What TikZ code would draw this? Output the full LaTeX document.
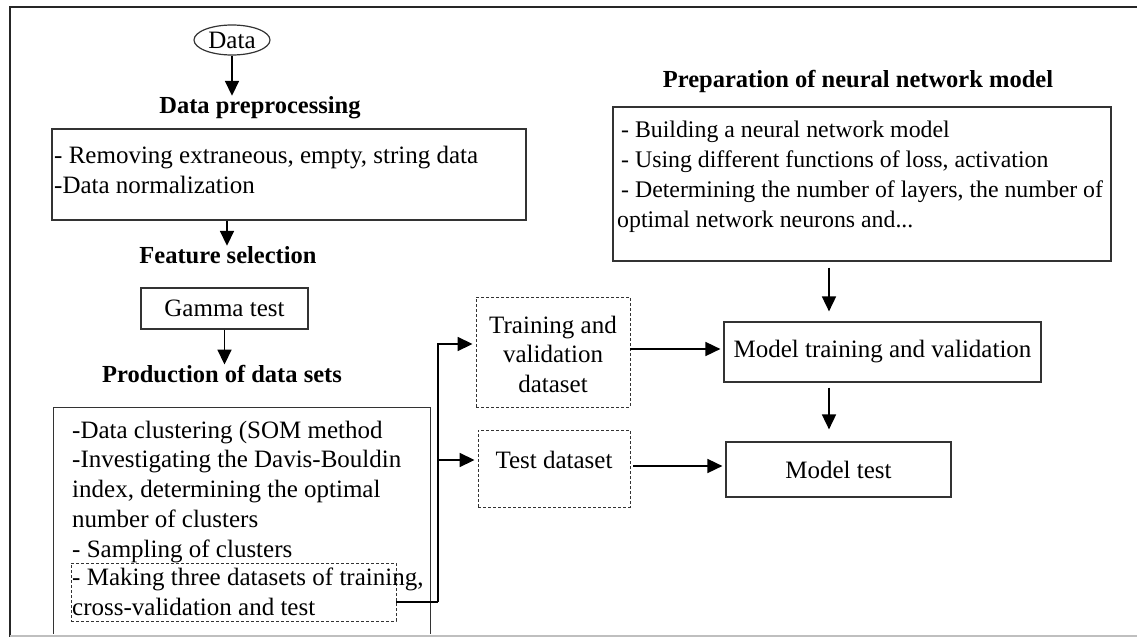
\documentclass[tikz,border=0pt]{standalone}
\usepackage{fontspec}
\setmainfont{Liberation Serif}
\usetikzlibrary{arrows.meta,calc,shapes.geometric}
\begin{document}
\begin{tikzpicture}[x=1pt,y=-1pt,
  every node/.style={font=\fontsize{25}{29.7}\selectfont},
  box/.style={draw=black!80,line width=1.2pt,inner sep=0pt},
  dbox/.style={draw=black!80,line width=0.9pt,dash pattern=on 3pt off 2pt,inner sep=0pt},
  head/.style={font=\fontsize{24.5}{29}\selectfont\bfseries,inner sep=0pt},
  txt/.style={inner sep=0pt,align=left},
  arr/.style={line width=1.7pt,-{Triangle[length=15pt,width=14pt]}},
  link/.style={line width=1.9pt}]
\useasboundingbox (0,0) rectangle (1137,637);

% page frame
\draw[line width=2.4pt,black!85] (1137,7) -- (10,7) -- (10,637);
\draw[line width=1.5pt,black!25] (10,636) -- (1137,636);

% left column (multi-line texts are placed by the baseline of their last line)
\node[box,ellipse,minimum width=76pt,minimum height=30pt] (data) at (232,40) {Data};
\node[head,anchor=base] (hpre) at (260,113) {Data preprocessing};
\node[box,minimum width=474pt,minimum height=91pt] (prep) at (289,174.5) {};
\node[txt,anchor=base west] (preptxt) at (54,193)
  {- Removing extraneous, empty, string data\\-Data normalization};
\node[head,anchor=base] (hfs) at (228,263) {Feature selection};
\node[box,minimum width=167pt,minimum height=41pt] (gamma) at (224.5,308.5) {Gamma test};
\node[head,anchor=base] (hds) at (222,382) {Production of data sets};
\begin{scope}
  \clip (0,0) rectangle (1137,633);
  \node[box,minimum width=377pt,minimum height=260pt,anchor=north west] (ds) at (53,407) {};
\end{scope}
\node[txt,anchor=base west] (dstxt) at (72,557)
  {-Data clustering (SOM method\\-Investigating the Davis-Bouldin\\index, determining the optimal\\number of clusters\\- Sampling of clusters};
\node[dbox,minimum width=325pt,minimum height=58pt] (mk) at (233.5,592) {};
\node[txt,anchor=base west] (mktxt) at (72,615.5)
  {- Making three datasets of training,\\cross-validation and test};

% middle column
\node[dbox,minimum width=154pt,minimum height=110pt] (trn) at (553,352) {};
\node[inner sep=0pt,align=center,anchor=base] (trntxt) at (553,392.5)
  {Training and\\validation\\dataset};
\node[dbox,minimum width=152pt,minimum height=77pt,text height=18pt,text depth=19pt,inner ysep=20pt] (tst) at (554,468.5)
  {Test dataset};

% right column
\node[head,anchor=base] (hnn) at (858,87) {Preparation of neural network model};
\node[box,minimum width=498pt,minimum height=154pt] (nn) at (862,184) {};
\node[txt,anchor=base west,font=\fontsize{23.8}{29.7}\selectfont] (nntxt) at (617,227)
  {\hspace*{4pt}- Building a neural network model\\
   \hspace*{4pt}- Using different functions of loss, activation\\
   \hspace*{4pt}- Determining the number of layers, the number of\\
   optimal network neurons and...};
\node[box,minimum width=317pt,minimum height=60pt] (mtrain) at (882.5,352) {Model training and validation};
\node[box,minimum width=225pt,minimum height=55pt] (mtest) at (838.5,469.5) {Model test};

% connectors
\coordinate (c1) at (227,0);
\coordinate (cx) at (829,0);
\coordinate (j) at (438,602);
\coordinate (tin) at ([yshift=8pt]trn.west);
\coordinate (sin) at ([yshift=8.5pt]tst.west);
\coordinate (tout) at ([yshift=3pt]trn.east);
\coordinate (sout) at ([yshift=2.5pt]tst.east);

\draw[arr] (data.south) -- (data.south |- hpre.north);
\draw[arr] (prep.south -| c1) -- (hfs.north -| c1);
\draw[arr] (gamma.south) -- (gamma.south |- hds.north);
\draw[link] ([yshift=-10pt]mk.east) -- (j);
\draw[arr,shorten >=3pt] (j) |- (tin);
\draw[arr,shorten >=3pt] (j |- sin) -- (sin);
\draw[arr,shorten >=3pt] (tout) -- (tout -| mtrain.west);
\draw[arr,shorten <=3pt,shorten >=3pt] (sout) -- (sout -| mtest.west);
\draw[arr,shorten <=6pt,shorten >=10pt] (nn.south -| cx) -- (mtrain.north -| cx);
\draw[arr,shorten <=5pt,shorten >=12pt] (mtrain.south -| cx) -- (mtest.north -| cx);
\end{tikzpicture}
\end{document}
